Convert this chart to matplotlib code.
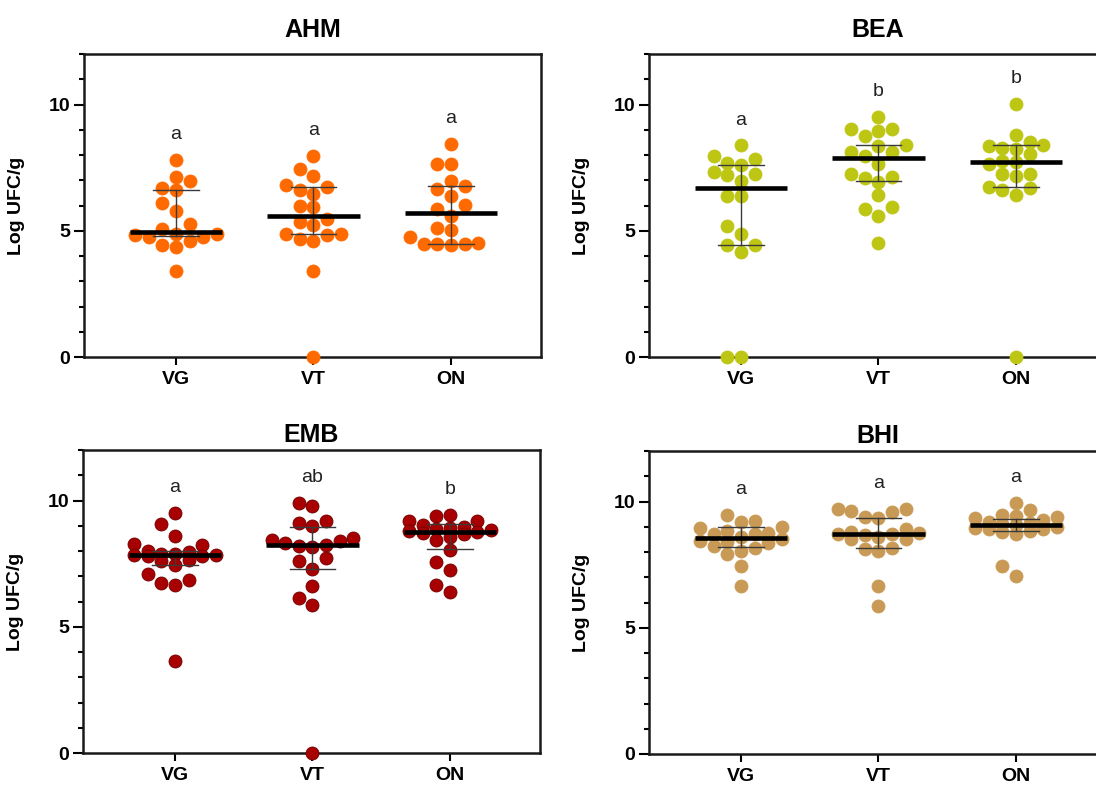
import numpy as np
import matplotlib
matplotlib.use("Agg")
import matplotlib.pyplot as plt

plt.rcParams['font.family'] = ['Liberation Sans', 'DejaVu Sans']

# ---------------- data ----------------
groups = ["VG", "VT", "ON"]
panels = ["AHM", "BEA", "EMB", "BHI"]

AHM_VG = [7.82, 7.12, 6.99, 6.69, 6.62, 6.10, 5.80, 5.28, 5.08, 4.88, 4.88, 4.82, 4.75, 4.75, 4.58, 4.42, 4.35, 3.40]
AHM_VT = [7.98, 7.45, 7.15, 6.83, 6.75, 6.62, 6.46, 6.00, 5.96, 5.47, 5.34, 5.21, 4.88, 4.88, 4.85, 4.68, 4.58, 3.40, 0.0]
AHM_ON = [8.44, 7.66, 7.66, 6.96, 6.79, 6.65, 6.39, 6.03, 5.86, 5.57, 5.11, 5.01, 4.77, 4.50, 4.48, 4.46, 4.46, 4.43]

BEA_VG = [8.38, 7.98, 7.85, 7.68, 7.59, 7.32, 7.26, 7.19, 6.99, 6.36, 6.36, 5.17, 4.88, 4.45, 4.45, 4.16, 0.0, 0.0]
BEA_VT = [9.50, 9.04, 9.04, 8.97, 8.77, 8.38, 8.34, 8.11, 8.11, 7.95, 7.65, 7.26, 7.12, 7.10, 6.93, 6.40, 5.96, 5.87, 5.57, 4.51]
BEA_ON = [10.03, 8.81, 8.51, 8.38, 8.34, 8.28, 8.25, 8.02, 7.78, 7.72, 7.63, 7.26, 7.26, 7.15, 6.73, 6.69, 6.62, 6.42, 0.0]

EMB_VG = [9.51, 9.05, 8.59, 8.26, 8.22, 8.00, 7.95, 7.90, 7.88, 7.86, 7.84, 7.82, 7.80, 7.66, 7.60, 7.46, 7.07, 6.87, 6.74, 6.67, 3.63]
EMB_VT = [9.91, 9.78, 9.18, 9.11, 8.98, 8.52, 8.45, 8.38, 8.30, 8.22, 8.20, 8.15, 7.73, 7.60, 7.27, 6.61, 6.14, 5.88, 0.0]
EMB_ON = [9.43, 9.37, 9.20, 9.17, 9.04, 8.95, 8.90, 8.88, 8.85, 8.80, 8.75, 8.72, 8.68, 8.57, 8.44, 8.05, 7.58, 7.25, 6.66, 6.39]

BHI_VG = [9.46, 9.23, 9.17, 9.00, 8.97, 8.84, 8.75, 8.70, 8.70, 8.60, 8.50, 8.45, 8.40, 8.37, 8.24, 8.17, 8.04, 7.91, 7.45, 6.65]
BHI_VT = [9.72, 9.70, 9.63, 9.60, 9.37, 9.33, 8.90, 8.80, 8.77, 8.72, 8.70, 8.68, 8.60, 8.50, 8.50, 8.17, 8.13, 8.04, 6.65, 5.86]
BHI_ON = [9.96, 9.67, 9.45, 9.42, 9.40, 9.35, 9.25, 9.20, 9.15, 9.10, 9.05, 9.00, 8.95, 8.90, 8.90, 8.85, 8.80, 8.70, 7.45, 7.05]

# median and interquartile range
AHM_med = [4.97, 5.57, 5.72]; AHM_q1 = [4.78, 4.88, 4.47]; AHM_q3 = [6.60, 6.75, 6.79]
BEA_med = [6.69, 7.88, 7.72]; BEA_q1 = [4.45, 6.97, 6.73]; BEA_q3 = [7.59, 8.38, 8.38]
EMB_med = [7.86, 8.22, 8.77]; EMB_q1 = [7.46, 7.29, 8.07]; EMB_q3 = [8.00, 8.96, 9.05]
BHI_med = [8.54, 8.70, 9.06]; BHI_q1 = [8.20, 8.15, 8.85]; BHI_q3 = [9.00, 9.34, 9.30]

AHM_letters = ["a", "a", "a"]
BEA_letters = ["a", "b", "b"]
EMB_letters = ["a", "ab", "b"]
BHI_letters = ["a", "a", "a"]

data = {
    "AHM": ([AHM_VG, AHM_VT, AHM_ON], AHM_med, AHM_q1, AHM_q3, AHM_letters),
    "BEA": ([BEA_VG, BEA_VT, BEA_ON], BEA_med, BEA_q1, BEA_q3, BEA_letters),
    "EMB": ([EMB_VG, EMB_VT, EMB_ON], EMB_med, EMB_q1, EMB_q3, EMB_letters),
    "BHI": ([BHI_VG, BHI_VT, BHI_ON], BHI_med, BHI_q1, BHI_q3, BHI_letters),
}
colors = {"AHM": "#FF6A00", "BEA": "#BEC614", "EMB": "#A80000", "BHI": "#C99A55"}
edges = {"AHM": "#FF6A00", "BEA": "#BEC614", "EMB": "#6E0000", "BHI": "#C99A55"}

# ---------------- layout ----------------
W, H = 1096, 793
fig = plt.figure(figsize=(W / 100, H / 100), dpi=100)
boxes = {
    "AHM": (84, 54, 541, 357),
    "BEA": (649, 54, 1106, 357),
    "EMB": (83, 450, 540, 753),
    "BHI": (649, 451, 1106, 754),
}
title_pad = {"AHM": 12, "BEA": 12, "EMB": 6, "BHI": 6}
XL = (-0.669, 2.655)
YL = (0, 12)
D_PX = 13.0          # marker diameter in pixels
MS = (D_PX * 72 / 100) ** 2


def swarm(values, px_x, px_y, d, maxcol=3):
    vals = np.asarray(values, float)
    n = len(vals)
    order = np.argsort(vals)
    placed = []
    offs = np.zeros(n)
    step = d * 1.05
    cands = [0.0]
    for k in range(1, maxcol + 1):
        cands += [-k * step, k * step]
    for i in order:
        y = vals[i] * px_y
        best, bestd = None, -1
        for c in cands:
            if placed:
                pa = np.array(placed)
                md = np.min(np.hypot(pa[:, 0] - c, pa[:, 1] - y))
            else:
                md = np.inf
            if md >= 0.95 * d:
                best = c
                break
            if md > bestd:
                bestd, best = md, c
        offs[i] = best
        placed.append((best, y))
    return offs / px_x


for name in panels:
    l, t, r, b = boxes[name]
    ax = fig.add_axes([l / W, 1 - b / H, (r - l) / W, (b - t) / H])
    ax.set_xlim(*XL)
    ax.set_ylim(*YL)
    px_x = (r - l) / (XL[1] - XL[0])
    px_y = (b - t) / (YL[1] - YL[0])
    vals_list, med, q1, q3, letters = data[name]
    for gi, vals in enumerate(vals_list):
        offs = swarm(vals, px_x, px_y, D_PX)
        ax.scatter(gi + offs, vals, s=MS, color=colors[name], edgecolors=edges[name],
                   linewidths=0.6, zorder=3, clip_on=False)
        # whiskers (IQR)
        ax.plot([gi, gi], [q1[gi], q3[gi]], color="#3a3a3a", lw=1.0, zorder=4)
        ax.plot([gi - 0.165, gi + 0.165], [q1[gi], q1[gi]], color="#3a3a3a", lw=1.0, zorder=4)
        ax.plot([gi - 0.165, gi + 0.165], [q3[gi], q3[gi]], color="#3a3a3a", lw=1.0, zorder=4)
        # median
        ax.plot([gi - 0.335, gi + 0.335], [med[gi], med[gi]], color="black", lw=3.3,
                solid_capstyle="butt", zorder=5)
        ax.text(gi, max(vals) + 1.0, letters[gi], ha="center", va="center",
                fontsize=14, color="#222222")
    ax.set_xticks(range(len(groups)))
    ax.set_xticklabels(groups, fontsize=14, fontweight="bold")
    ax.set_yticks([0, 5, 10])
    ax.set_yticklabels(["0", "5", "10"], fontsize=14, fontweight="bold")
    ax.set_yticks(np.arange(0, 13, 1), minor=True)
    ax.tick_params(axis="y", which="major", length=7, width=1.5, pad=3, direction="out")
    ax.tick_params(axis="y", which="minor", length=3.6, width=1.5, direction="out")
    ax.tick_params(axis="x", which="major", length=6, width=1.5, pad=4, direction="out")
    ax.tick_params(axis="x", which="minor", length=0)
    for sp in ax.spines.values():
        sp.set_linewidth(1.8)
        sp.set_color("#1a1a1a")
    ax.set_title(name, fontsize=18, fontweight="bold", pad=title_pad[name])
    ax.set_ylabel("Log UFC/g", fontsize=14, fontweight="bold")
    ax.yaxis.set_label_coords(-0.129, 0.5)

fig.savefig("out.png", dpi=100)
